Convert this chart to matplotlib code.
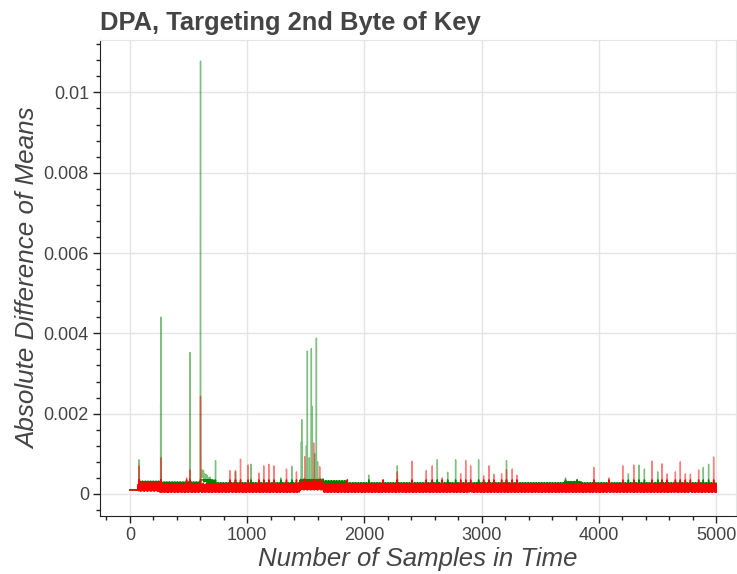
import numpy as np
import matplotlib
matplotlib.use('Agg')
import matplotlib.pyplot as plt
from matplotlib.ticker import MultipleLocator, FuncFormatter

n_samples = 5000

# background noise of the two difference traces (units of 1e-4)
green_noise = [1.5, 1.0, 2.3, 1.2, 1.8, 0.9, 2.7, 1.4, 1.1, 2.0, 1.6, 0.8,
               2.5, 1.3, 1.9, 1.0, 2.8, 1.5, 1.2, 2.1, 1.7, 1.0, 2.4]
red_noise = [1.2, 0.6, 2.1, 0.9, 1.6, 0.4, 2.4, 1.1, 0.7, 1.9, 1.3, 0.5, 2.2,
             1.0, 1.5, 0.8, 2.6, 1.2, 0.6, 1.8, 1.4, 0.9, 2.0, 0.5, 1.7, 1.1,
             2.3, 0.8, 1.4]
flat_start = 70
flat_level = 1.0e-4

# raised stretches of the traces: (from, to, extra)
green_raise = [(75, 250, 0.4e-4), (250, 600, 0.2e-4), (604, 630, 3.2e-4),
               (630, 660, 2.2e-4), (660, 690, 1.4e-4), (690, 720, 0.7e-4),
               (1450, 1650, 1.0e-4), (1650, 1850, 0.5e-4), (3700, 3850, 0.3e-4)]
red_raise = [(75, 250, 0.3e-4), (1450, 1650, 0.6e-4)]

# peaks: (sample, value)
green_peaks = [(77, 8.5e-4), (80, 6.0e-4), (262, 2.3e-3), (264, 4.4e-3),
               (265, 1.2e-3), (510, 1.5e-3), (511, 3.52e-3), (512, 8e-4),
               (600, 3.5e-3), (601, 6.2e-3), (602, 1.078e-2), (603, 4.4e-3),
               (604, 1.4e-3), (730, 8.3e-4), (900, 5.5e-4), (1031, 7.4e-4),
               (1286, 4.0e-4), (1380, 6.9e-4), (1462, 1.3e-3), (1465, 1.85e-3),
               (1505, 1.2e-3), (1513, 3.56e-3), (1530, 9e-4), (1547, 3.62e-3),
               (1555, 2.18e-3), (1575, 1.0e-3), (1590, 3.88e-3), (1600, 8e-4),
               (2036, 4.7e-4), (2280, 7.0e-4), (2621, 8.5e-4), (2709, 5.4e-4),
               (2777, 8.5e-4), (2973, 8.5e-4), (3211, 8.3e-4), (3714, 4.0e-4),
               (3813, 3.6e-4), (4250, 5.0e-4), (4340, 7.2e-4), (4387, 6.2e-4),
               (4500, 5.5e-4), (4889, 6.6e-4), (4934, 7.4e-4)]
red_peaks = [(77, 7.0e-4), (264, 9e-4), (483, 4e-4), (511, 6e-4),
             (602, 2.43e-3), (603, 1.0e-3), (852, 5.8e-4), (900, 5.8e-4),
             (943, 8.7e-4), (1008, 7.2e-4), (1099, 5.2e-4), (1141, 7.0e-4),
             (1184, 7.4e-4), (1227, 7.0e-4), (1335, 6.2e-4), (1420, 5.5e-4),
             (1490, 9.3e-4), (1567, 1.27e-3), (1618, 6.8e-4), (1854, 3.6e-4),
             (2158, 3.5e-4), (2280, 5.5e-4), (2405, 8.1e-4), (2527, 5.8e-4),
             (2578, 7.0e-4), (2663, 4.0e-4), (2820, 5.0e-4), (2863, 8.3e-4),
             (2905, 7.0e-4), (3016, 4.5e-4), (3061, 7.0e-4), (3103, 4.9e-4),
             (3169, 5.0e-4), (3211, 6.0e-4), (3260, 6.2e-4), (3299, 4.7e-4),
             (3955, 6.6e-4), (4083, 4.0e-4), (4202, 7.0e-4), (4296, 7.2e-4),
             (4452, 8.2e-4), (4537, 7.5e-4), (4580, 5.0e-4), (4651, 5.5e-4),
             (4693, 8.0e-4), (4736, 5.0e-4), (4779, 4.9e-4), (4849, 6.0e-4),
             (4977, 9.2e-4)]


def build_trace(noise, raise_list, peaks):
    y = np.resize(np.array(noise) * 1e-4, n_samples)
    y[:flat_start] = flat_level
    for a, b, extra in raise_list:
        y[a:b] += extra
    for s, v in peaks:
        y[s] = max(y[s], v)
    return y


samples = np.arange(n_samples)
green_trace = build_trace(green_noise, green_raise, green_peaks)
red_trace = build_trace(red_noise, red_raise, red_peaks)

plt.rcParams['font.family'] = ['Liberation Sans', 'DejaVu Sans']
text_col = '#444444'

fig = plt.figure(figsize=(7.37, 5.74), dpi=100)
ax = fig.add_axes([0.1357, 0.101, 0.8633, 0.829])

# dense part of each trace drawn solid, full trace semi-transparent on top
band_top = 3.5e-4
ax.plot(samples, np.minimum(green_trace, band_top), color='green', lw=1)
ax.plot(samples, green_trace, color='green', lw=1, alpha=0.5)
ax.plot(samples, np.minimum(red_trace, band_top), color='red', lw=1)
ax.plot(samples, red_trace, color='red', lw=1, alpha=0.5)

ax.set_xlim(-255, 5170)
ax.set_ylim(-0.00055, 0.0113)
ax.xaxis.set_major_locator(MultipleLocator(1000))
ax.xaxis.set_minor_locator(MultipleLocator(200))
ax.yaxis.set_major_locator(MultipleLocator(0.002))
ax.yaxis.set_minor_locator(MultipleLocator(0.0004))
ax.yaxis.set_major_formatter(FuncFormatter(lambda v, p: '%g' % round(v, 6)))

ax.grid(True, which='major', color='#e5e5e5', lw=1)
ax.set_axisbelow(True)
for side in ['top', 'right']:
    ax.spines[side].set_color('#e5e5e5')
for side in ['left', 'bottom']:
    ax.spines[side].set_color('#222222')

ax.tick_params(which='major', direction='out', length=5, width=1, pad=3,
               colors='#222222', labelcolor=text_col, labelsize=13)
ax.tick_params(which='minor', direction='out', length=3, width=1,
               colors='#222222')

ax.set_title('DPA, Targeting 2nd Byte of Key', loc='left', fontsize=18.4,
             fontweight='bold', color=text_col, pad=7)
ax.set_xlabel('Number of Samples in Time', fontsize=18.5, style='italic',
              color=text_col, labelpad=2)
ax.set_ylabel('Absolute Difference of Means', fontsize=18.7, style='italic',
              color=text_col, labelpad=2)

fig.savefig('out.png', dpi=100)
